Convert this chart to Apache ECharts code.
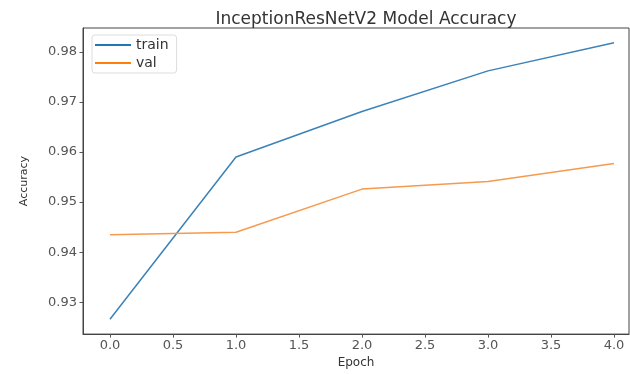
<!DOCTYPE html>
<html>
<head>
<meta charset="utf-8">
<script src="https://cdn.jsdelivr.net/npm/echarts@6/dist/echarts.min.js"></script>
<style>html,body{margin:0;padding:0;background:#fff;}#c{width:630px;height:374px;}</style>
</head>
<body>
<div id="c"></div>
<script>
const epochs = [0, 1, 2, 3, 4];
const trainAcc = [0.9266, 0.9590, 0.9681, 0.9762, 0.9818];
const valAcc = [0.9435, 0.9440, 0.9526, 0.9541, 0.9577];
const xTicks = [0, 0.5, 1, 1.5, 2, 2.5, 3, 3.5, 4];
const yTicks = [0.93, 0.94, 0.95, 0.96, 0.97, 0.98];

const font = 'DejaVu Sans';
const chart = echarts.init(document.getElementById('c'), null, {renderer: 'canvas'});
chart.setOption({
  animation: false,
  backgroundColor: '#fff',
  title: {
    text: 'InceptionResNetV2 Model Accuracy',
    left: 361, top: 6, textAlign: 'center',
    textStyle: {fontFamily: font, fontSize: 17, fontWeight: 'normal', color: '#333'}
  },
  grid: {left: 83, right: 1, top: 28, bottom: 38, show: true, borderColor: '#444', borderWidth: 1, backgroundColor: 'transparent'},
  legend: {
    orient: 'vertical', left: 92, top: 35,
    data: ['train', 'val'],
    icon: 'rect', itemWidth: 36, itemHeight: 2, itemGap: 2, itemTextGap: 11,
    padding: [2, 8, 2, 3],
    borderColor: '#ddd', borderWidth: 1, borderRadius: 3,
    textStyle: {fontFamily: font, fontSize: 14, color: '#333', lineHeight: 16}
  },
  xAxis: {
    type: 'value', min: -0.214, max: 4.119,
    name: 'Epoch', nameLocation: 'middle', nameGap: 21,
    nameTextStyle: {fontFamily: font, fontSize: 12, color: '#333'},
    axisLine: {show: true, onZero: false, lineStyle: {color: '#444', width: 1}},
    axisTick: {show: true, length: 3.5, customValues: xTicks, lineStyle: {color: '#555'}},
    axisLabel: {customValues: xTicks, formatter: v => v.toFixed(1), fontFamily: font, fontSize: 13, color: '#555', margin: 5},
    splitLine: {show: false}
  },
  yAxis: {
    type: 'value', min: 0.92365, max: 0.98476,
    name: 'Accuracy', nameLocation: 'middle', nameGap: 53, nameRotate: 90,
    nameTextStyle: {fontFamily: font, fontSize: 11, color: '#333'},
    axisLine: {show: true, onZero: false, lineStyle: {color: '#444', width: 1}},
    axisTick: {show: true, length: 3.5, customValues: yTicks, lineStyle: {color: '#555'}},
    axisLabel: {customValues: yTicks, formatter: v => v.toFixed(2), fontFamily: font, fontSize: 13, color: '#555', margin: 6},
    splitLine: {show: false}
  },
  series: [
    {name: 'train', type: 'line', data: epochs.map((e, i) => [e, trainAcc[i]]), showSymbol: false, color: '#1f77b4', lineStyle: {width: 1.5, color: '#3b82b8'}},
    {name: 'val', type: 'line', data: epochs.map((e, i) => [e, valAcc[i]]), showSymbol: false, color: '#ff7f0e', lineStyle: {width: 1.5, color: '#f59a4e'}}
  ]
});
</script>
</body>
</html>
